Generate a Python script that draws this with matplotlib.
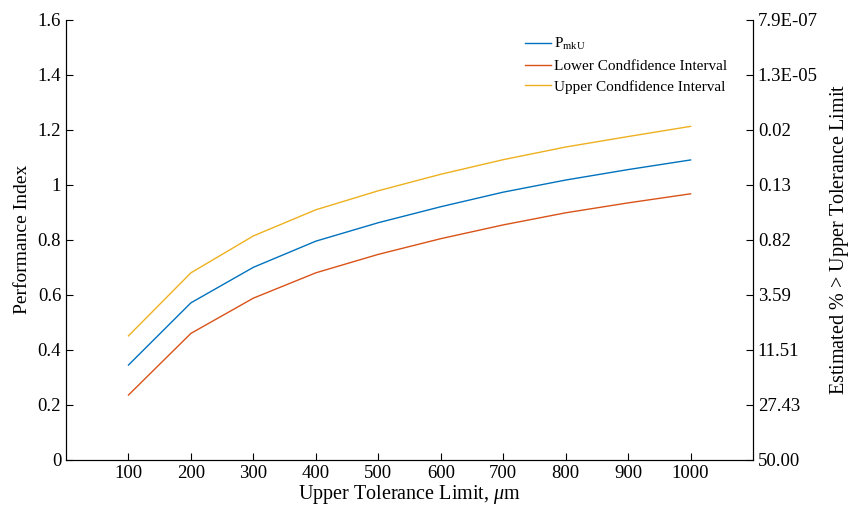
import matplotlib
matplotlib.use("Agg")
import matplotlib.pyplot as plt

plt.rcParams['font.family'] = ['Liberation Serif', 'DejaVu Serif']
plt.rcParams['mathtext.fontset'] = 'custom'
plt.rcParams['mathtext.rm'] = 'Liberation Serif'
plt.rcParams['mathtext.it'] = 'Liberation Serif:italic'

usl = [100, 200, 300, 400, 500, 600, 700, 800, 900, 1000]
ppk = [0.345, 0.571, 0.700, 0.795, 0.862, 0.920, 0.973, 1.017, 1.055, 1.090]
lower_ci = [0.236, 0.460, 0.588, 0.680, 0.747, 0.804, 0.854, 0.898, 0.934, 0.967]
upper_ci = [0.451, 0.680, 0.814, 0.909, 0.978, 1.038, 1.091, 1.137, 1.175, 1.212]

left_ticks = [0, 0.2, 0.4, 0.6, 0.8, 1.0, 1.2, 1.4, 1.6]
left_labels = ['0', '0.2', '0.4', '0.6', '0.8', '1', '1.2', '1.4', '1.6']
right_labels = ['50.00', '27.43', '11.51', '3.59', '0.82', '0.13', '0.02', '1.3E-05', '7.9E-07']

fig = plt.figure(figsize=(8.53, 5.08), dpi=100)
ax = fig.add_axes([0.0774, 0.0945, 0.8054, 0.867])

ax.plot(usl, ppk, color='#0072BD', lw=1.0, label=r'P$_{\mathrm{mkU}}$')
ax.plot(usl, lower_ci, color='#D95319', lw=1.0, label='Lower Condfidence Interval')
ax.plot(usl, upper_ci, color='#EDB120', lw=1.0, label='Upper Condfidence Interval')

ax.set_xlim(0, 1100)
ax.set_ylim(0, 1.6)
ax.set_xticks(usl)
ax.set_xticklabels([str(v) for v in usl])
ax.set_yticks(left_ticks)
ax.set_yticklabels(left_labels)
ax.tick_params(direction='in', labelsize=13.5, length=5, width=0.8, colors='black')
ax.spines['top'].set_visible(False)
ax.set_xlabel(r'Upper Tolerance Limit, $\mathit{\mu}$m', fontsize=14.5, labelpad=1)
ax.set_ylabel('Performance Index', fontsize=14, labelpad=5)

ax2 = ax.twinx()
ax2.set_ylim(0, 1.6)
ax2.set_yticks(left_ticks)
ax2.set_yticklabels(right_labels)
ax2.tick_params(direction='in', labelsize=13.5, length=5, width=0.8)
ax2.spines['top'].set_visible(False)
ax2.set_ylabel(r'Estimated $\mathit{\%}$ > Upper Tolerance Limit', fontsize=14.5, labelpad=7)

leg = ax.legend(loc='upper right', bbox_to_anchor=(0.9705, 0.976), frameon=False,
                fontsize=11, handlelength=1.7, handletextpad=0.15, labelspacing=0.45,
                borderaxespad=0)

fig.savefig('out.png', dpi=100)
